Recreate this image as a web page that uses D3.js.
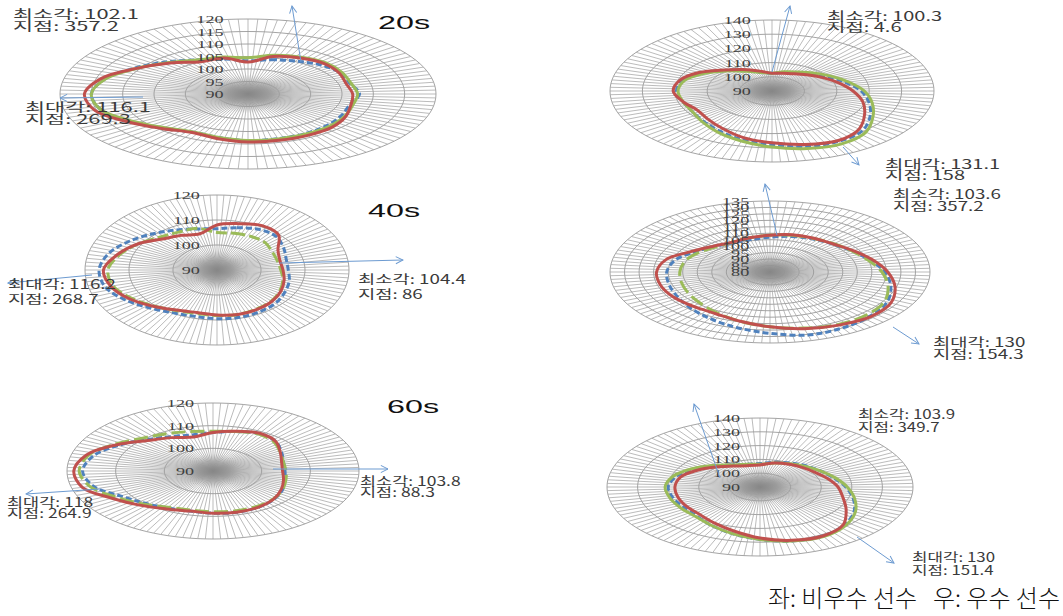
<!DOCTYPE html>
<meta charset="utf-8">
<style>
body { margin: 0; background: #fff; }
.grid { fill: none; stroke: #9a9a9a; stroke-width: 0.9; }
.spoke { stroke: #9e9e9e; stroke-width: 0.7; }
.tick { font-family: "Liberation Serif", serif; font-size: 11px; fill: #404040; }
.note { font-family: "Noto Sans CJK KR", sans-serif; font-size: 12.5px; fill: #3a3a3a; }
.title { font-family: "Liberation Sans", Arial, sans-serif; font-size: 19px; fill: #111; }
.arrow { stroke: #6d9bd1; stroke-width: 1; fill: none; }
.caption { font-family: "Noto Sans CJK KR", sans-serif; font-size: 24px; font-weight: 300; fill: #111; }
</style>
<body>
<svg width="1063" height="616"></svg>
<script src="https://cdn.jsdelivr.net/npm/d3@7"></script>
<script>

// angle of each value, degrees clockwise from top
var angles = d3.range(0, 360, 15);

// left column: 비우수 선수 (20s, 40s, 60s)
var left20Red   = [102.8,105.5,106.6,107.2,106.8,106.2,106.7,107.0,108.0,108.9,109.1,109.2,109.2,108.5,107.8,109.5,112.2,115.3,116.1,114.2,110.5,107.5,104.9,104.9];
var left20Green = [104.5,106.0,107.0,107.6,107.3,107.0,107.5,107.3,107.8,108.3,108.5,108.6,108.6,108.0,107.5,109.0,111.5,114.3,115.0,113.5,110.5,107.8,105.8,105.3];
var left20Blue  = [103.3,104.2,105.2,106.4,107.0,106.8,107.8,106.8,107.2,107.8,108.3,108.5,108.7,108.0,107.6,109.3,111.8,114.3,115.0,113.6,110.8,108.2,105.8,104.5];

var left40Red   = [108.0,109.2,110.5,109.8,106.0,104.8,105.0,105.8,106.8,107.7,108.2,108.4,108.0,107.6,108.5,110.5,113.0,115.0,115.8,113.5,110.8,107.5,106.0,105.0];
var left40Green = [105.0,105.2,105.5,105.5,104.5,104.2,104.5,105.5,106.5,107.5,108.0,108.4,108.2,108.0,108.7,110.3,112.5,114.5,114.8,113.0,110.8,108.5,107.5,107.3];
var left40Blue  = [106.5,107.5,108.8,109.0,107.5,106.3,106.2,107.0,107.8,108.8,109.3,109.6,109.5,109.2,109.8,111.5,114.0,116.3,116.8,115.5,113.0,110.5,108.5,107.0];

var left60Red   = [107.0,108.2,109.2,108.3,106.0,104.6,104.3,105.0,106.2,107.6,108.5,108.8,108.6,108.3,109.3,111.3,114.0,117.8,118.6,117.0,113.0,109.0,107.0,105.5];
var left60Green = [107.5,108.0,108.8,107.8,106.0,105.0,105.0,105.5,106.5,107.5,108.0,108.2,108.0,107.8,108.5,110.5,113.0,116.2,117.5,116.5,113.5,110.5,109.0,108.0];
var left60Blue  = [107.0,108.0,109.0,108.3,106.3,105.0,104.8,105.3,106.5,107.7,108.5,108.8,108.6,108.3,108.8,110.0,112.0,115.5,116.8,115.5,112.5,109.5,107.5,106.5];

// right column: 우수 선수 (20s, 40s, 60s)
var right20Red   = [102.5,103.0,104.0,106.0,108.5,111.5,115.0,119.0,123.0,128.0,130.5,129.0,126.5,124.0,120.5,118.0,116.7,118.5,120.5,119.4,116.0,111.0,107.5,104.5];
var right20Green = [102.5,104.0,105.5,108.0,111.0,114.5,118.5,122.0,126.0,131.0,133.0,132.0,129.5,126.5,123.5,120.5,118.5,118.5,119.0,118.0,114.5,110.0,106.0,103.5];
var right20Blue  = [102.5,103.5,105.0,107.0,110.0,113.5,117.5,121.0,125.0,129.5,131.0,130.5,128.0,125.5,122.5,120.0,118.5,118.5,119.5,118.5,115.0,110.5,106.5,103.5];

var right40Red   = [108.5,109.8,110.2,110.7,113.0,116.5,120.5,124.5,128.0,129.0,127.5,125.5,122.5,119.5,117.3,117.5,118.5,119.0,119.0,117.0,111.5,108.0,106.5,107.5];
var right40Green = [108.5,109.5,110.0,111.0,112.5,115.0,118.5,122.0,125.5,127.0,127.0,125.0,122.5,119.5,116.5,114.0,112.5,111.5,111.0,110.5,109.0,107.0,106.5,107.5];
var right40Blue  = [107.0,108.5,109.5,110.5,112.5,115.5,119.5,123.0,126.5,128.5,130.0,130.5,127.5,124.5,121.5,119.0,117.0,116.0,115.5,114.0,110.5,107.5,106.0,106.0];

var right60Red   = [106.0,108.0,109.0,109.8,111.0,113.0,115.5,118.0,122.5,128.5,131.0,130.0,127.0,123.0,120.0,118.0,117.8,117.8,117.8,117.0,114.0,110.5,107.5,106.0];
var right60Green = [106.5,108.0,109.5,111.0,113.0,115.5,118.5,122.0,126.0,129.5,131.5,130.5,128.0,125.0,122.0,120.0,120.0,120.5,121.0,119.5,116.0,112.0,108.5,107.0];
var right60Blue  = [107.0,108.5,110.0,111.5,113.0,115.0,118.0,121.5,125.5,129.0,131.0,130.5,128.0,125.0,122.0,119.5,119.0,119.5,120.0,118.5,115.5,111.5,108.5,107.0];

// radial axis ticks
var left20Ticks  = [90, 95, 100, 105, 110, 115, 120];
var left40Ticks  = [90, 100, 110, 120];
var left60Ticks  = [90, 100, 110, 120];
var right20Ticks = [90, 100, 110, 120, 130, 140];
var right40Ticks = [80, 85, 90, 95, 100, 105, 110, 115, 120, 125, 130, 135];
var right60Ticks = [90, 100, 110, 120, 130, 140];

// annotations
var minText = ["최소각: 102.1", "최소각: 100.3", "최소각: 104.4", "최소각: 103.6", "최소각: 103.8", "최소각: 103.9"];
var minAt   = ["지점: 357.2", "지점: 4.6", "지점: 86", "지점: 357.2", "지점: 88.3", "지점: 349.7"];
var maxText = ["최대각: 116.1", "최대각: 131.1", "최대각: 116.2", "최대각: 130", "최대각: 118", "최대각: 130"];
var maxAt   = ["지점: 269.3", "지점: 158", "지점: 268.7", "지점: 154.3", "지점: 264.9", "지점: 151.4"];
var titles  = ["20s", "", "40s", "", "60s", ""];
var caption = "좌: 비우수 선수   우: 우수 선수";

var spokeAngles = d3.range(0, 360, 3);

var svg = d3.select("svg");

var defs = svg.append("defs");
defs.append("marker")
    .attr("id", "head")
    .attr("viewBox", "0 0 10 10")
    .attr("refX", 9).attr("refY", 5)
    .attr("markerWidth", 9).attr("markerHeight", 9)
    .attr("markerUnits", "userSpaceOnUse")
    .attr("orient", "auto")
  .append("path")
    .attr("d", "M1,1 L9,5 L1,9")
    .attr("fill", "none")
    .attr("stroke", "#6d9bd1")
    .attr("stroke-width", 1.1);

var blob = defs.append("radialGradient").attr("id", "blob");
blob.append("stop").attr("offset", "0%").attr("stop-color", "#858585").attr("stop-opacity", 0.95);
blob.append("stop").attr("offset", "55%").attr("stop-color", "#959595").attr("stop-opacity", 0.6);
blob.append("stop").attr("offset", "100%").attr("stop-color", "#aaa").attr("stop-opacity", 0);

var charts = [
  { cx: 248, cy: 94, rx: 188, ry: 75, ticks: left20Ticks, series: [left20Blue, left20Green, left20Red],
    greenDash: null, ts: 1.75, titleAt: [378, 29],
    minAt: [13, 19], maxAt: [25, 112], lh: 12,
    arrows: [[301, 62, 292, 6], [143, 97, 60, 98]] },
  { cx: 772, cy: 91, rx: 162, ry: 71, ticks: right20Ticks, series: [right20Blue, right20Green, right20Red],
    greenDash: null, ts: 1.6,
    minAt: [827, 21], maxAt: [885, 169], lh: 11,
    arrows: [[772, 72, 790, 6], [843, 147, 859, 165]] },
  { cx: 217, cy: 270, rx: 132, ry: 75, ticks: left40Ticks, series: [left40Blue, left40Green, left40Red],
    greenDash: "11,4", ts: 1.5, titleAt: [368, 217],
    minAt: [358, 284], maxAt: [8, 289], lh: 15,
    arrows: [[280, 263, 403, 260], [92, 275, 8, 283]] },
  { cx: 770, cy: 272, rx: 160, ry: 71, ticks: right40Ticks, series: [right40Blue, right40Green, right40Red],
    greenDash: "14,5", ts: 1.5,
    minAt: [893, 199], maxAt: [933, 347], lh: 12,
    arrows: [[777, 235, 765, 184], [893, 327, 919, 344]] },
  { cx: 213, cy: 471, rx: 146, ry: 68, ticks: left60Ticks, series: [left60Blue, left60Green, left60Red],
    greenDash: "14,5", ts: 1.4, titleAt: [387, 413],
    minAt: [360, 486], maxAt: [7, 507], lh: 11,
    arrows: [[273, 469, 388, 469], [100, 489, 26, 494]] },
  { cx: 760, cy: 487, rx: 153, ry: 69, ticks: right60Ticks, series: [right60Blue, right60Green, right60Red],
    greenDash: null, ts: 1.35,
    minAt: [858, 419], maxAt: [912, 562], lh: 13,
    arrows: [[720, 478, 694, 404], [857, 537, 894, 563]] }
];

var seriesStyle = [
  { color: "#4f81bd", dash: "6,3" },
  { color: "#9bbb59", dash: null },
  { color: "#c0504d", dash: null }
];

function stretched(g, x, y, sx, text, cls) {
  return g.append("text")
      .attr("class", cls)
      .attr("transform", "translate(" + x + "," + y + ") scale(" + sx + ",1)")
      .text(text);
}

charts.forEach(function(c, i) {
  var g = svg.append("g");
  var lo = d3.min(c.ticks), hi = d3.max(c.ticks);
  var r = d3.scaleLinear().domain([lo, hi]).range([0, 1]);
  var rad = function(a) { return a * Math.PI / 180; };
  var px = function(a, v) { return c.cx + c.rx * r(v) * Math.sin(rad(a)); };
  var py = function(a, v) { return c.cy - c.ry * r(v) * Math.cos(rad(a)); };

  // spokes
  g.selectAll(".spoke").data(spokeAngles).join("line")
      .attr("class", "spoke")
      .attr("x1", c.cx).attr("y1", c.cy)
      .attr("x2", function(a) { return px(a, hi); })
      .attr("y2", function(a) { return py(a, hi); });

  // rings
  g.selectAll(".grid").data(c.ticks.slice(1)).join("path")
      .attr("class", "grid")
      .attr("d", function(t) {
        return d3.line().x(function(a) { return px(a, t); }).y(function(a) { return py(a, t); })
            .curve(d3.curveLinearClosed)(spokeAngles);
      });

  // dense centre
  g.append("ellipse")
      .attr("cx", c.cx).attr("cy", c.cy)
      .attr("rx", c.rx * 0.2).attr("ry", c.ry * 0.26)
      .attr("fill", "url(#blob)");

  // series
  c.series.forEach(function(vals, k) {
    var st = seriesStyle[k];
    var dash = k === 1 ? c.greenDash : st.dash;
    var line = d3.line()
        .x(function(d, j) { return px(angles[j], d); })
        .y(function(d, j) { return py(angles[j], d); })
        .curve(d3.curveCatmullRomClosed.alpha(0.5));
    g.append("path")
        .attr("d", line(vals))
        .attr("fill", "none")
        .attr("stroke", st.color)
        .attr("stroke-width", 3)
        .attr("stroke-dasharray", dash)
        .attr("stroke-linejoin", "round");
  });

  // tick labels, right-aligned left of the vertical axis
  c.ticks.forEach(function(t) {
    stretched(g, c.cx - c.rx * 0.13, py(0, t) + 4, 1.65, t, "tick")
        .attr("text-anchor", "end");
  });

  if (titles[i]) stretched(g, c.titleAt[0], c.titleAt[1], 1.7, titles[i], "title");

  // arrows
  c.arrows.forEach(function(a) {
    g.append("line").attr("class", "arrow")
        .attr("x1", a[0]).attr("y1", a[1]).attr("x2", a[2]).attr("y2", a[3])
        .attr("marker-end", "url(#head)");
  });

  stretched(g, c.minAt[0], c.minAt[1], c.ts, minText[i], "note");
  stretched(g, c.minAt[0], c.minAt[1] + c.lh, c.ts, minAt[i], "note");
  stretched(g, c.maxAt[0], c.maxAt[1], c.ts, maxText[i], "note");
  stretched(g, c.maxAt[0], c.maxAt[1] + c.lh, c.ts, maxAt[i], "note");
});

svg.append("text")
    .attr("class", "caption")
    .attr("x", 1060).attr("y", 607)
    .attr("text-anchor", "end")
    .attr("xml:space", "preserve")
    .style("white-space", "pre")
    .text(caption);

</script>
</body>
